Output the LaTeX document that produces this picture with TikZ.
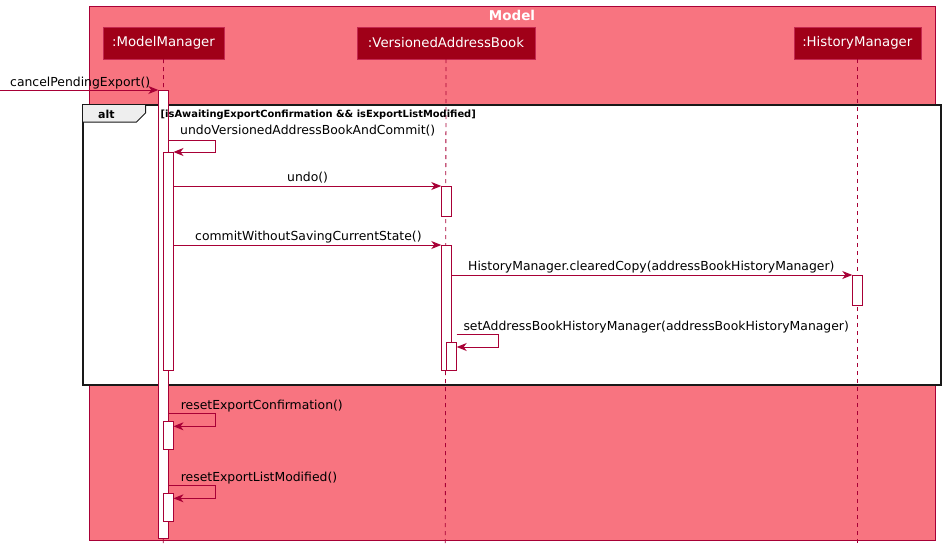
\documentclass[tikz,border=0pt]{standalone}
\usepackage{fontspec}
\setmainfont{DejaVu Sans}
\usetikzlibrary{arrows.meta}
\definecolor{boxfill}{RGB}{248,116,128}
\definecolor{partfill}{RGB}{160,0,24}
\definecolor{partline}{RGB}{196,40,80}
\definecolor{seqline}{RGB}{168,0,54}
\definecolor{tabfill}{RGB}{238,238,238}
\begin{document}
\begin{tikzpicture}[x=1pt,y=-1pt,
  participant/.style={draw=partline, fill=partfill, text=white, inner sep=0pt, outer sep=0pt,
    minimum height=32, font=\fontsize{13.3}{15}\selectfont},
  lifeline/.style={draw=seqline, line width=0.8pt, dash pattern=on 4pt off 4pt},
  actbar/.style={draw=seqline, fill=white, line width=1pt, inner sep=0pt, outer sep=0pt, minimum width=10},
  msg/.style={draw=seqline, line width=1pt, -{Stealth[length=10pt, width=8pt, inset=3pt]}},
  msglabel/.style={inner sep=0pt, anchor=base west, font=\fontsize{12.4}{14}\selectfont},
  frame/.style={draw=black!90, line width=2pt, fill=white},
]
\useasboundingbox (0,0) rectangle (945,552);

% enclosing box
\node[draw=seqline, fill=boxfill, line width=1pt, inner sep=0pt, minimum width=846, minimum height=534, anchor=north west] (model) at (89,6) {};
\node[text=white, font=\bfseries\fontsize{13.5}{15}\selectfont, inner sep=0pt, anchor=base] (modeltitle) at (512,20) {Model};

% participants
\node[participant, minimum width=121] (mm) at (163.5,43) {:ModelManager};
\node[participant, minimum width=178] (vab) at (446,43) {:VersionedAddressBook};
\node[participant, minimum width=127] (hm) at (857.3,43) {:HistoryManager};

% alt fragment
\draw[frame] (83,105) rectangle (941,385);
\fill[tabfill] (83,105) -- (145.5,105) -- (145.5,113) -- (136.5,122) -- (83,122) -- cycle;
\draw[black!90, line width=1pt] (145.5,105) -- (145.5,113) -- (136.5,122) -- (83,122);
\node[inner sep=0pt, anchor=base west, font=\bfseries\fontsize{11}{13}\selectfont] (altlabel) at (98,118.3) {alt};

% lifelines
\coordinate (mmend) at (163.3,545);
\coordinate (vabend) at (445.3,545);
\coordinate (hmend) at (857.3,545);
\draw[lifeline] (mm.south) -- (mmend);
\draw[lifeline] (vab.south) -- (vabend);
\draw[lifeline] (hm.south) -- (hmend);

% activations
\node[actbar, minimum height=448, anchor=north] (mmA) at (163.3,90) {};
\node[actbar, minimum height=218, anchor=north] (mmB) at (168.5,152) {};
\node[actbar, minimum height=30, anchor=north] (vabA) at (446.3,186) {};
\node[actbar, minimum height=125, anchor=north] (vabB) at (446.3,245) {};
\node[actbar, minimum height=30, anchor=north] (hmA) at (857.3,275) {};
\node[actbar, minimum height=28, anchor=north] (vabC) at (451.7,342.3) {};
\node[actbar, minimum height=28, anchor=north] (mmC) at (168.5,421.7) {};
\node[actbar, minimum height=28, anchor=north] (mmD) at (168.5,493.3) {};

% guard of the alt fragment, on top of the activation bar
\node[inner sep=0pt, anchor=base west, font=\bfseries\fontsize{9.9}{11}\selectfont] (altcond) at (160.5,117.3) {[isAwaitingExportConfirmation \&\& isExportListModified]};

% incoming call
\coordinate (caller) at (0,90);
\draw[msg] (caller) -- (mmA.north west);
\node[msglabel] (l1) at (10,86) {cancelPendingExport()};

% self call: undoVersionedAddressBookAndCommit
\draw[msg] (mmA.east |- 0,140) -- (215,140) -- (215,152) -- (mmB.north east);
\node[msglabel] (l2) at (180,134) {undoVersionedAddressBookAndCommit()};

% undo
\draw[msg] (mmB.east |- vabA.north) -- (vabA.north west);
\node[msglabel] (l3) at (287,181.5) {undo()};

% commitWithoutSavingCurrentState
\draw[msg] (mmB.east |- vabB.north) -- (vabB.north west);
\node[msglabel] (l4) at (195,240.7) {commitWithoutSavingCurrentState()};

% clearedCopy
\draw[msg] (vabB.east |- hmA.north) -- (hmA.north west);
\node[msglabel] (l5) at (468,270) {HistoryManager.clearedCopy(addressBookHistoryManager)};

% self call: setAddressBookHistoryManager
\draw[msg] (vabC.east |- 0,334.7) -- (498.7,334.7) -- (498.7,347) -- (vabC.east |- 0,347);
\node[msglabel] (l6) at (463.3,330) {setAddressBookHistoryManager(addressBookHistoryManager)};

% self call: resetExportConfirmation
\draw[msg] (mmA.east |- 0,413.3) -- (215.7,413.3) -- (215.7,426.3) -- (mmC.east |- 0,426.3);
\node[msglabel] (l7) at (180.7,409.3) {resetExportConfirmation()};

% self call: resetExportListModified
\draw[msg] (mmA.east |- 0,485.7) -- (215.7,485.7) -- (215.7,498.3) -- (mmD.east |- 0,498.3);
\node[msglabel] (l8) at (180.7,481) {resetExportListModified()};
\end{tikzpicture}
\end{document}
